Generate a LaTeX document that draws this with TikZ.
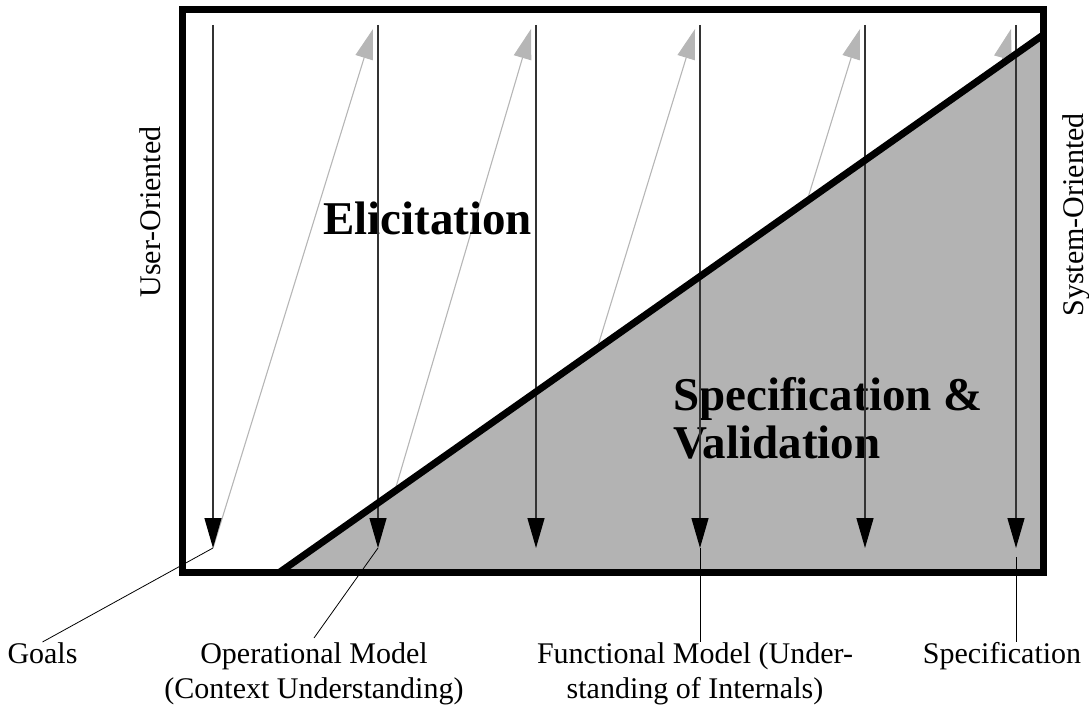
\documentclass[tikz,border=0pt]{standalone}
\usepackage{fontspec}
\setmainfont{Liberation Serif}
\usetikzlibrary{arrows.meta}
\definecolor{fillgray}{RGB}{179,179,179}
\definecolor{arrowgray}{RGB}{182,182,182}
\begin{document}
\begin{tikzpicture}[x=1pt,y=-1pt,
  lbl/.style={font=\fontsize{30}{35}\selectfont, inner sep=0pt},
  title/.style={font=\fontsize{47}{48}\selectfont\bfseries, inner sep=0pt},
  vflow/.style={line width=1.3pt, black!80, -{Triangle[length=30pt,width=17pt,color=black]}},
  gflow/.style={line width=1.1pt, arrowgray, -{Triangle[length=30pt,width=18pt]}},
  leader/.style={line width=0.8pt, black},
  frame/.style={line width=7pt, black}]
\useasboundingbox (0,0) rectangle (1089,709);

% column coordinates
\foreach \i/\x in {1/213,2/378,3/536,4/700,5/865,6/1016}{
  \coordinate (top\i) at (\x,25);
  \coordinate (tip\i) at (\x,548);
}

% gray feedback arrows (under the fill)
\foreach \i/\j in {1/2,2/3,3/4,4/5,5/6}
  \draw[gflow] (tip\i) -- ([shift={(-5pt,-4pt)}]top\j);

% specification area
\fill[fillgray] (280,572) -- (1043,35) -- (1043,572) -- cycle;

% titles
\node[title, anchor=base west] (elic) at (323,234) {Elicitation};
\node[title, anchor=base west, align=left] (specval) at (673,458) {Specification \&\\Validation};

% vertical flow arrows
\foreach \i in {1,...,6}
  \draw[vflow] (top\i) -- (tip\i);

% frame and diagonal
\draw[frame] (182,10) rectangle (1043,572);
\draw[frame] (280,572) -- (1043,35);

% side labels
\node[lbl, anchor=base, rotate=90] (uo) at (160,212) {User-Oriented};
\node[lbl, anchor=base, rotate=90] (so) at (1083,215) {System-Oriented};

% bottom labels
\node[lbl, anchor=base] (goals) at (42.5,663) {Goals};
\node[lbl, anchor=base, align=center] (opm) at (314,698) {Operational Model\\(Context Understanding)};
\node[lbl, anchor=base, align=center] (fm) at (695,698) {Functional Model (Under-\\standing of Internals)};
\node[lbl, anchor=base] (spec) at (1002,663) {Specification};

% leader lines
\draw[leader] (goals.north) -- (tip1);
\draw[leader] ([yshift=4pt]opm.north) -- (tip2);
\draw[leader] (tip4) -- (tip4 |- fm.north);
\draw[leader] ([yshift=-9pt]tip6) -- (tip6 |- spec.north);
\end{tikzpicture}
\end{document}
